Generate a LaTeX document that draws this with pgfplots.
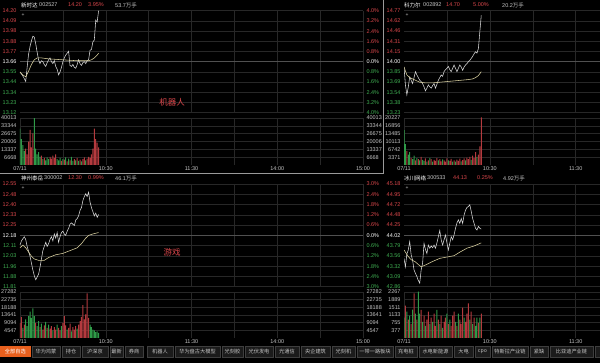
\documentclass[border=0pt]{standalone}
\usepackage{pgfplots}
\pgfplotsset{compat=1.18}
\usepackage{fontspec}
\setmainfont{Liberation Sans}
\newfontfamily\cjk{Noto Sans CJK SC}
\definecolor{gridc}{HTML}{272727}
\definecolor{midc}{HTML}{505050}
\definecolor{upc}{HTML}{D9474B}
\definecolor{dnc}{HTML}{3FAE52}
\definecolor{txt}{HTML}{C4C4C4}
\definecolor{pricec}{HTML}{DADADA}
\definecolor{avgc}{HTML}{DCD3A2}
\definecolor{barup}{HTML}{B43A3E}
\definecolor{bardn}{HTML}{2F9A48}
\definecolor{tabbg}{HTML}{1B1B1B}
\definecolor{tabln}{HTML}{3E3E3E}
\definecolor{tabor}{HTML}{E8601E}
\definecolor{selc}{HTML}{9A9A9A}
\newcommand{\up}[1]{\textcolor{upc}{#1}}
\newcommand{\dn}[1]{\textcolor{dnc}{#1}}
\newcommand{\zr}[1]{\textcolor{white}{#1}}
\newcommand{\lf}{\fontsize{5.5}{6}\selectfont}
\newcommand{\tf}{\fontsize{5.2}{6}\selectfont}
\pgfplotsset{
  panel/.style={scale only axis, anchor=south west, axis line style={draw=none},
    tick style={draw=none}, major tick length=0pt,
    ticklabel style={font=\lf, text=txt}, scaled ticks=false,
    grid style={gridc, line width=0.4pt}},
  L/.style={xmin=0, xmax=240, width=343pt},
  R/.style={xmin=0, xmax=137, width=196pt},
  topP/.style={height=102pt},
  topV/.style={height=47pt},
  botP/.style={height=102.7pt},
  botV/.style={height=46pt},
  pline/.style={pricec, line width=0.55pt},
  aline/.style={avgc, line width=0.55pt},
  vup/.style={ybar, bar width=0.7, bar shift=0pt, fill=barup, draw=none},
  vdn/.style={ybar, bar width=0.7, bar shift=0pt, fill=bardn, draw=none},
}
\begin{document}
\begin{tikzpicture}[x=1pt,y=1pt]
\useasboundingbox (0,0) rectangle (600,363);
\fill[black] (0,0) rectangle (600,363);

% ================= TOP LEFT: price =================
\begin{axis}[panel, L, topP, at={(20pt,250.3pt)},
  ymin=13.12, ymax=14.20,
  xtick={30,60,...,240}, xticklabels={}, xmajorgrids,
  ytick={13.12,13.228,13.336,13.444,13.552,13.66,13.768,13.876,13.984,14.092,14.20},
  yticklabels={\dn{13.12},\dn{13.23},\dn{13.34},\dn{13.44},\dn{13.55},\zr{13.66},\up{13.77},\up{13.88},\up{13.98},\up{14.09},\up{14.20}},
  ymajorgrids,
  extra y ticks={13.66}, extra y tick labels={}, extra y tick style={major grid style={midc, line width=0.4pt}}]
\addplot[pline] coordinates {(0,13.55)(1,13.53)(2,13.51)(3,13.48)(4,13.45)(5,13.60)(6,13.74)(7,13.82)(8,13.88)(9,13.93)(10,13.92)(11,13.85)(12,13.76)(13,13.68)(14,13.64)(15,13.67)(16,13.66)(17,13.63)(18,13.61)(19,13.65)(20,13.68)(21,13.70)(22,13.66)(23,13.64)(24,13.67)(25,13.61)(26,13.58)(27,13.52)(28,13.55)(29,13.60)(30,13.66)(31,13.70)(32,13.73)(33,13.75)(34,13.77)(35,13.62)(36,13.61)(37,13.63)(38,13.60)(39,13.59)(40,13.63)(41,13.68)(42,13.64)(43,13.62)(44,13.65)(45,13.66)(46,13.64)(47,13.67)(48,13.68)(49,13.78)(50,13.79)(51,13.87)(52,13.89)(53,14.10)(54,14.08)(55,14.20)};
\addplot[aline] coordinates {(0,13.55)(2,13.52)(4,13.50)(6,13.56)(8,13.63)(10,13.68)(12,13.70)(15,13.70)(20,13.69)(30,13.68)(40,13.67)(45,13.67)(48,13.67)(50,13.68)(52,13.70)(54,13.73)(55,13.75)};
\end{axis}
\begin{axis}[panel, L, topP, at={(20pt,250.3pt)}, ymin=-4, ymax=4, xtick=\empty,
  ytick={-4,-3.2,-2.4,-1.6,-0.8,0,0.8,1.6,2.4,3.2,4},
  yticklabels={\dn{4.0\%},\dn{3.2\%},\dn{2.4\%},\dn{1.6\%},\dn{0.8\%},\zr{0.0\%},\up{0.8\%},\up{1.6\%},\up{2.4\%},\up{3.2\%},\up{4.0\%}},
  ytick pos=right, yticklabel pos=right]
\end{axis}
% ================= TOP LEFT: volume =================
\begin{axis}[panel, L, topV, at={(20pt,198pt)}, ymin=0, ymax=40013,
  xtick={0,30,...,240}, xticklabels={07/11,,10:30,,11:30,,14:00,,15:00}, xmajorgrids,
  xticklabel style={yshift=2pt},
  ytick={6668,13337,20006,26675,33344,40013}, yticklabels={6668,13337,20006,26675,33344,40013}, ymajorgrids]
\addplot[vdn] coordinates {(0,31000)(1,22000)(2,17000)(3,12000)(10,40000)(11,14000)(12,9000)(13,11000)(14,7000)(16,5000)(18,4000)(19,6500)(20,5000)(26,5000)(27,4000)(28,6000)(30,5000)(32,6500)(34,5500)(36,7000)(37,3500)(39,4000)(41,3500)(43,3000)(46,4000)};
\addplot[vup] coordinates {(4,14000)(5,9000)(6,20000)(7,30000)(8,15000)(9,27000)(15,8000)(17,6000)(21,7000)(22,5500)(23,8000)(24,6000)(25,9000)(29,3500)(31,4500)(33,3000)(35,4000)(38,5000)(40,6000)(42,4500)(44,5000)(45,6500)(47,5500)(48,7000)(49,6000)(50,9000)(51,14000)(52,31000)(53,22000)(54,19000)(55,15000)};
\end{axis}
\begin{axis}[panel, L, topV, at={(20pt,198pt)}, ymin=0, ymax=40013, xtick=\empty,
  ytick={6668,13337,20006,26675,33344,40013}, yticklabels={6668,13337,20006,26675,33344,40013},
  ytick pos=right, yticklabel pos=right]
\end{axis}

% ================= TOP RIGHT: price =================
\begin{axis}[panel, R, topP, at={(404pt,250.3pt)},
  ymin=13.23, ymax=14.77,
  xtick={30,60,90,120}, xticklabels={}, xmajorgrids,
  ytick={13.23,13.384,13.538,13.692,13.846,14.00,14.154,14.308,14.462,14.616,14.77},
  yticklabels={\dn{13.23},\dn{13.38},\dn{13.54},\dn{13.69},\dn{13.85},\zr{14.00},\up{14.15},\up{14.31},\up{14.46},\up{14.62},\up{14.77}},
  ymajorgrids,
  extra y ticks={14.00}, extra y tick labels={}, extra y tick style={major grid style={midc, line width=0.4pt}}]
\addplot[pline] coordinates {(0,13.92)(1,13.65)(2,13.50)(3,13.62)(4,13.77)(5,13.72)(6,13.67)(7,13.76)(8,13.85)(9,13.80)(10,13.76)(11,13.72)(12,13.70)(13,13.67)(14,13.62)(15,13.56)(16,13.60)(17,13.65)(18,13.62)(19,13.60)(20,13.64)(21,13.67)(22,13.60)(23,13.66)(24,13.72)(25,13.76)(26,13.80)(27,13.78)(28,13.85)(29,13.88)(30,13.90)(31,13.93)(32,13.88)(33,13.85)(34,13.90)(35,13.95)(36,13.90)(37,13.85)(38,13.90)(39,13.95)(40,13.92)(41,13.87)(42,13.92)(43,13.95)(44,13.97)(45,14.00)(46,14.02)(47,14.05)(48,14.08)(49,14.12)(50,14.15)(51,14.13)(52,14.20)(53,14.45)(54,14.70)};
\addplot[aline] coordinates {(0,13.92)(2,13.80)(4,13.76)(8,13.72)(11,13.69)(15,13.68)(20,13.68)(25,13.69)(30,13.70)(35,13.71)(40,13.72)(45,13.73)(48,13.74)(50,13.76)(52,13.79)(54,13.85)};
\end{axis}
% ================= TOP RIGHT: volume =================
\begin{axis}[panel, R, topV, at={(404pt,198pt)}, ymin=0, ymax=20227,
  xtick={0,30,60,90,120}, xticklabels={07/11,,10:30,,11:30}, xmajorgrids,
  xticklabel style={yshift=2pt},
  ytick={3371,6742,10113,13485,16856,20227}, yticklabels={3371,6742,10113,13485,16856,20227}, ymajorgrids]
\addplot[vdn] coordinates {(0,15000)(1,9000)(3,4500)(4,5500)(6,2500)(7,4000)(9,3000)(11,2000)(13,2200)(14,1800)(16,1500)(18,3000)(20,1500)(24,2000)(27,2400)(31,2000)(34,1400)(36,1500)(40,1600)(43,2000)(47,2200)(51,3500)};
\addplot[vup] coordinates {(2,6000)(5,3000)(8,2000)(10,2500)(12,3500)(15,2800)(17,2000)(19,2500)(21,2200)(22,1800)(23,3000)(25,2500)(26,1600)(28,2000)(29,1500)(30,2800)(32,1800)(33,2600)(35,2000)(37,2300)(38,1800)(39,2700)(41,2100)(42,2800)(44,3200)(45,2500)(46,3500)(48,4000)(49,3000)(50,5500)(52,4500)(53,8000)(54,20500)};
\end{axis}

% ================= BOTTOM LEFT: price =================
\begin{axis}[panel, L, botP, at={(20pt,76.3pt)},
  ymin=11.81, ymax=12.55,
  xtick={30,60,...,240}, xticklabels={}, xmajorgrids,
  ytick={11.81,11.884,11.958,12.032,12.106,12.18,12.254,12.328,12.402,12.476,12.55},
  yticklabels={\dn{11.81},\dn{11.88},\dn{11.96},\dn{12.03},\dn{12.11},\zr{12.18},\up{12.25},\up{12.33},\up{12.40},\up{12.48},\up{12.55}},
  ymajorgrids,
  extra y ticks={12.18}, extra y tick labels={}, extra y tick style={major grid style={midc, line width=0.4pt}}]
\addplot[pline] coordinates {(0,12.11)(1,12.14)(3,12.17)(4,12.15)(5,12.10)(7,12.03)(8,11.98)(9,11.93)(10,11.89)(11,11.86)(12,11.88)(13,11.90)(14,11.95)(15,12.01)(16,12.07)(17,12.10)(18,12.13)(19,12.10)(20,12.12)(21,12.15)(22,12.17)(23,12.14)(24,12.19)(25,12.16)(26,12.20)(27,12.13)(28,12.17)(29,12.20)(30,12.21)(31,12.19)(32,12.18)(33,12.21)(34,12.23)(35,12.26)(36,12.27)(37,12.26)(38,12.25)(39,12.29)(40,12.30)(41,12.32)(42,12.36)(43,12.38)(44,12.43)(45,12.46)(46,12.48)(47,12.46)(48,12.49)(49,12.42)(50,12.38)(51,12.35)(52,12.32)(53,12.34)(54,12.31)(55,12.33)};
\addplot[aline] coordinates {(0,12.09)(2,12.11)(4,12.09)(8,12.03)(10,12.01)(13,12.00)(17,12.00)(20,12.02)(25,12.04)(30,12.05)(35,12.07)(40,12.09)(43,12.12)(46,12.16)(48,12.18)(51,12.19)(55,12.20)};
\end{axis}
\begin{axis}[panel, L, botP, at={(20pt,76.3pt)}, ymin=-3, ymax=3, xtick=\empty,
  ytick={-3,-2.4,-1.8,-1.2,-0.6,0,0.6,1.2,1.8,2.4,3},
  yticklabels={\dn{3.0\%},\dn{2.4\%},\dn{1.8\%},\dn{1.2\%},\dn{0.6\%},\zr{0.0\%},\up{0.6\%},\up{1.2\%},\up{1.8\%},\up{2.4\%},\up{3.0\%}},
  ytick pos=right, yticklabel pos=right]
\end{axis}
% ================= BOTTOM LEFT: volume =================
\begin{axis}[panel, L, botV, at={(20pt,25pt)}, ymin=0, ymax=27282,
  xtick={0,30,...,240}, xticklabels={07/11,,10:30,,11:30,,14:00,,15:00}, xmajorgrids,
  xticklabel style={yshift=2pt},
  ytick={4547,9094,13641,18188,22735,27282}, yticklabels={4547,9094,13641,18188,22735,27282}, ymajorgrids]
\addplot[vup] coordinates {(0,9000)(1,12500)(3,8000)(11,9000)(14,6500)(16,5000)(17,7500)(19,6000)(21,5500)(22,7000)(24,6500)(25,5000)(27,6000)(28,4500)(30,9000)(31,13000)(32,7500)(34,6000)(35,8500)(37,6500)(38,5000)(39,7000)(41,8000)(42,10000)(43,12500)(44,19500)(45,11000)(46,14000)(47,26500)(48,12000)};
\addplot[vdn] coordinates {(2,6000)(4,11000)(5,7000)(6,13000)(7,15600)(8,12000)(9,17600)(10,13000)(12,7000)(13,10000)(15,8500)(18,9500)(20,8000)(23,4500)(26,8000)(29,7000)(33,5000)(36,4000)(40,5500)(49,8000)(50,6500)(51,5000)(52,4500)(53,3500)(54,4000)(55,3000)};
\end{axis}
\begin{axis}[panel, L, botV, at={(20pt,25pt)}, ymin=0, ymax=27282, xtick=\empty,
  ytick={4547,9094,13641,18188,22735,27282}, yticklabels={4547,9094,13641,18188,22735,27282},
  ytick pos=right, yticklabel pos=right]
\end{axis}

% ================= BOTTOM RIGHT: price =================
\begin{axis}[panel, R, botP, at={(404pt,76.3pt)},
  ymin=42.86, ymax=45.18,
  xtick={30,60,90,120}, xticklabels={}, xmajorgrids,
  ytick={42.86,43.092,43.324,43.556,43.788,44.02,44.252,44.484,44.716,44.948,45.18},
  yticklabels={\dn{42.86},\dn{43.09},\dn{43.32},\dn{43.56},\dn{43.79},\zr{44.02},\up{44.25},\up{44.48},\up{44.72},\up{44.95},\up{45.18}},
  ymajorgrids,
  extra y ticks={44.02}, extra y tick labels={}, extra y tick style={major grid style={midc, line width=0.4pt}}]
\addplot[pline] coordinates {(0,43.50)(1,43.31)(2,43.60)(3,43.69)(4,43.88)(5,43.58)(6,43.46)(7,43.24)(8,43.16)(9,43.09)(10,43.00)(11,42.94)(12,43.24)(13,43.39)(14,43.84)(15,43.70)(16,43.61)(17,43.80)(18,43.73)(19,43.78)(20,43.74)(21,43.80)(22,43.73)(23,43.85)(24,43.99)(25,44.13)(26,43.92)(27,43.80)(28,43.92)(29,44.03)(30,43.85)(31,43.69)(32,43.84)(33,43.99)(34,43.92)(35,44.03)(36,44.18)(37,44.30)(38,44.37)(39,44.29)(40,44.40)(41,44.29)(42,44.48)(43,44.59)(44,44.65)(45,44.67)(46,44.71)(47,44.56)(48,44.40)(49,44.29)(50,44.18)(51,44.14)(52,44.22)(53,44.18)(54,44.16)};
\addplot[aline] coordinates {(0,43.69)(3,43.54)(5,43.47)(8,43.42)(10,43.36)(12,43.31)(15,43.35)(20,43.43)(25,43.50)(30,43.53)(35,43.56)(39,43.64)(44,43.73)(49,43.78)(54,43.85)};
\end{axis}
% ================= BOTTOM RIGHT: volume =================
\begin{axis}[panel, R, botV, at={(404pt,25pt)}, ymin=0, ymax=2267,
  xtick={0,30,60,90,120}, xticklabels={07/11,,10:30,,11:30}, xmajorgrids,
  xticklabel style={yshift=2pt},
  ytick={377,755,1133,1511,1889,2267}, yticklabels={377,755,1133,1511,1889,2267}, ymajorgrids]
\addplot[vdn] coordinates {(0,1000)(2,1300)(4,1100)(6,1400)(8,1200)(10,2280)(11,1200)(13,800)(15,600)(18,700)(20,800)(23,1380)(25,700)(27,500)(30,1200)(32,900)(36,800)(38,1200)(42,1000)(46,900)(48,700)(50,600)(51,1000)(53,1000)};
\addplot[vup] coordinates {(1,1600)(3,900)(5,700)(7,2200)(9,900)(12,1380)(14,1100)(16,900)(17,1300)(19,1000)(21,1200)(22,600)(24,900)(26,1100)(28,800)(29,1000)(31,700)(33,600)(34,1100)(35,1300)(37,600)(39,900)(40,700)(41,1500)(43,800)(44,1200)(45,1700)(47,1300)(49,1000)(52,750)(54,1200)};
\end{axis}

% ================= selection frame =================
\draw[selc, line width=0.6pt] (0,190) -- (383,190) -- (383,363);

% ================= headers =================
\begin{scope}[every node/.style={anchor=west, inner sep=0pt, font=\lf}]
\node[text=white] at (21,358) {\cjk 新时达};
\node[text=txt] at (39,358) {002527};
\node[text=upc] at (68,358) {14.20};
\node[text=upc] at (88,358) {3.95\%};
\node[text=txt] at (115,358) {53.7{\cjk 万手}};
\node[text=white] at (404,358) {\cjk 科力尔};
\node[text=txt] at (423,358) {002892};
\node[text=upc] at (446,358) {14.70};
\node[text=upc] at (473,358) {5.00\%};
\node[text=txt] at (502,358) {20.2{\cjk 万手}};
\node[text=white] at (21,185) {\cjk 神州泰岳};
\node[text=txt] at (44,185) {300002};
\node[text=upc] at (68,185) {12.30};
\node[text=upc] at (88,185) {0.99\%};
\node[text=txt] at (115,185) {46.1{\cjk 万手}};
\node[text=white] at (404,185) {\cjk 冰川网络};
\node[text=txt] at (427,185) {300533};
\node[text=upc] at (453,185) {44.13};
\node[text=upc] at (477,185) {0.25\%};
\node[text=txt] at (503,185) {4.92{\cjk 万手}};
\node[text=txt, font=\fontsize{5}{5}\selectfont] at (21.5,348) {+};
\node[text=txt, font=\fontsize{5}{5}\selectfont] at (405.5,348) {+};
\node[text=txt, font=\fontsize{5}{5}\selectfont] at (21.5,175) {+};
\node[text=txt, font=\fontsize{5}{5}\selectfont] at (405.5,175) {+};
\end{scope}

% ================= centre labels =================
\node[text=upc, font=\cjk\fontsize{8.5}{9}\selectfont] at (172,261) {机器人};
\node[text=upc, font=\cjk\fontsize{8.5}{9}\selectfont] at (172,111) {游戏};

% ================= tab bar =================
\fill[black] (0,0) rectangle (600,20);
\fill[tabor] (0,6) rectangle (30.7,17);
\node[text=white, font=\cjk\tf] at (15.3,11.5) {全部自选};
\foreach \a/\b/\t in {32/60/华为鸿蒙, 62/80/持仓, 82/108/沪深京, 110/123/最新, 125/143/券商, 147/173/机器人, 175/220/华为盘古大模型, 222/243/光刻胶, 245/273/光伏发电, 275/299/光通信, 301/330/央企建筑, 332/355/光刻机, 357/393/一带一路板块, 395/417/充电桩, 419/452/水电新能源, 454/473/大电, 475/490/cpo, 492/528/特斯拉产业链, 530/548/紧缺, 550/593/比亚迪产业链}{
  \draw[fill=tabbg, draw=tabln, line width=0.4pt] (\a,6) rectangle (\b,17);
  \node[text=txt, font=\cjk\tf] at ({(\a+\b)/2},11.5) {\t};
}
\draw[fill=tabbg, draw=tabln, line width=0.4pt] (595,6) rectangle (602,17);
\end{tikzpicture}
\end{document}
